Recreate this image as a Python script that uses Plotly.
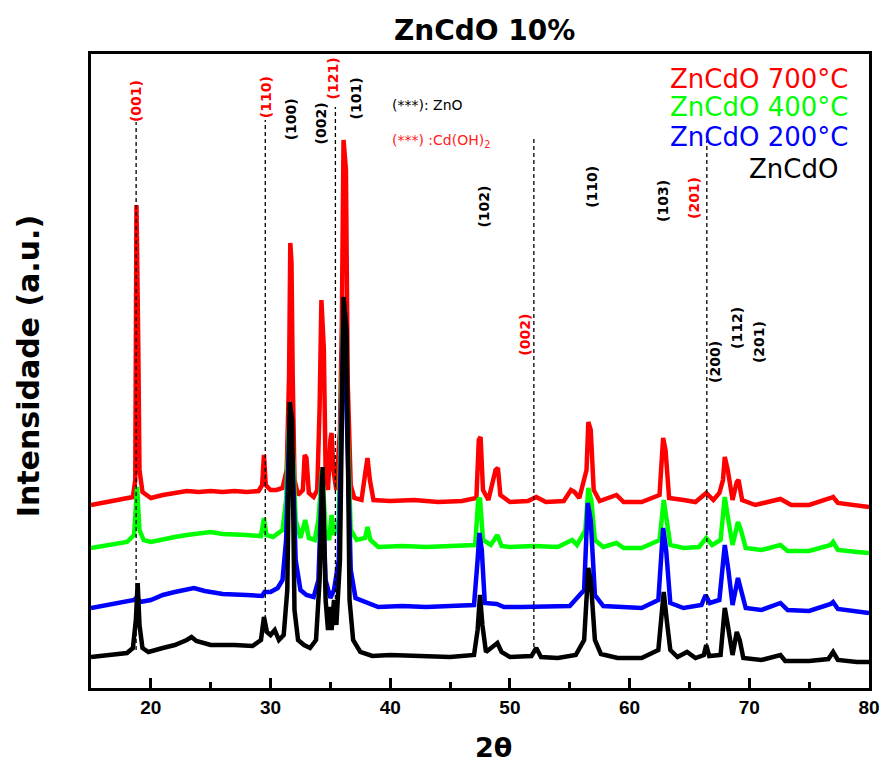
import plotly.graph_objects as go

# ---------------- data (2theta in degrees, intensity in a.u. with stacking offset included) -------------
tt_700 = [15, 16, 17, 18.0, 18.5, 18.7, 18.8, 18.95, 19.05, 19.3, 20, 21, 22, 23, 24, 25, 26, 27, 28,
          29.0, 29.3, 29.45, 29.6, 30.0, 30.5, 31.0, 31.35, 31.55, 31.65, 31.75, 31.85, 32.0, 32.3, 32.7,
          32.85, 33.0, 33.2, 33.6, 33.9, 34.1, 34.25, 34.45, 34.6, 34.8, 35.0, 35.1, 35.25, 35.5, 35.8,
          35.95, 36.1, 36.3, 36.45, 36.7, 37.0, 37.6, 37.95, 38.1, 38.3, 38.6, 40, 42, 44, 46, 47.2, 47.4,
          47.55, 47.75, 48.2, 48.8, 49.0, 49.2, 50, 51.5, 52.2, 53, 54.5, 55.1, 55.4, 55.8, 56.4, 56.55,
          56.75, 57.0, 57.5, 58.9, 59.5, 61, 62.5, 62.8, 63.0, 63.3, 64.5, 65.5, 66.4, 67.0, 67.5, 67.8,
          67.95, 68.2, 68.6, 68.95, 69.1, 69.4, 70.5, 72.6, 73.5, 75, 76.8, 77.0, 77.4, 79, 80]
int_700 = [183, 185, 187, 189, 191, 208, 483, 343, 218, 196, 190, 193, 195, 197, 196, 197, 196, 197, 196,
           197, 203, 233, 203, 198, 198, 200, 218, 313, 445, 426, 313, 208, 193, 198,
           233, 230, 195, 191, 198, 280, 388, 340, 218, 198, 248, 255, 218, 198, 258,
           360, 548, 518, 305, 203, 190, 188, 218, 230, 208, 188, 187, 188, 186, 187, 190, 248,
           251, 198, 188, 218, 220, 193, 186, 187, 191, 186, 187, 198, 196, 190, 218, 266,
           258, 198, 187, 193, 186, 186, 193, 250, 238, 190, 188, 186, 195, 188, 195, 208,
           231, 218, 188, 206, 208, 188, 183, 189, 183, 183, 190, 191, 185, 182, 181]

tt_400 = [15, 16, 17, 18.0, 18.6, 18.85, 19.05, 19.4, 20, 21, 22, 23, 24, 25, 26, 27, 28, 29.2, 29.45,
          29.65, 30.2, 31.0, 31.3, 31.6, 31.85, 32.1, 32.5, 32.9, 33.2, 33.7, 34.0, 34.3, 34.6, 34.9,
          35.1, 35.3, 35.7, 36.1, 36.4, 36.7, 37.2, 37.9, 38.1, 38.35, 39, 41, 43, 45, 47.1, 47.35, 47.5,
          47.75, 48.4, 48.95, 49.3, 50, 52, 54, 55.2, 55.6, 56.3, 56.55, 56.8, 57.1, 57.8, 58.9, 59.5,
          61, 62.5, 62.85, 63.1, 63.4, 64.5, 65.8, 66.4, 66.9, 67.6, 67.95, 68.25, 68.6, 69.05, 69.3,
          69.7, 71, 72.6, 73.2, 75, 76.8, 77.0, 77.4, 79, 80]
int_400 = [140, 142, 144, 146, 153, 201, 158, 148, 146, 149, 151, 153, 154, 156, 154, 153, 153, 152, 170,
           153, 151, 158, 188, 278, 238, 168, 150, 168, 150, 148, 168, 218, 158, 148,
           173, 153, 168, 388, 268, 158, 148, 150, 161, 148, 141, 142, 141, 142, 143, 188, 190,
           148, 143, 153, 142, 141, 142, 141, 148, 143, 158, 200, 188, 148, 141, 145, 140,
           140, 148, 188, 168, 143, 140, 141, 150, 143, 148, 191, 168, 143, 166, 158,
           140, 138, 143, 137, 137, 143, 146, 138, 136, 135]

tt_200 = [15, 16, 17, 18.0, 18.6, 18.85, 19.1, 20, 21, 22, 23, 23.6, 24.5, 26, 28, 29.3, 29.5, 30.0,
          30.6, 31.0, 31.3, 31.6, 31.85, 32.1, 32.5, 33.0, 33.6, 34.0, 34.3, 34.6, 35.0, 35.3, 35.7,
          36.1, 36.4, 36.7, 37.1, 38, 39, 41, 43, 45, 47.0, 47.3, 47.45, 47.65, 47.9, 48.9, 49.5, 51,
          53, 55, 56.2, 56.5, 56.75, 57.1, 57.8, 59, 61, 62.4, 62.8, 63.05, 63.4, 64.5, 66.0, 66.35,
          66.7, 67.5, 67.95, 68.25, 68.6, 69.05, 69.3, 69.7, 71, 72.6, 73.2, 75, 76.8, 77.0, 77.4, 79, 80]
int_200 = [80, 82, 84, 86, 88, 91, 86, 88, 93, 96, 99, 100, 97, 94, 93, 92, 96, 96,
           100, 108, 148, 273, 228, 128, 98, 93, 91, 108, 213, 108, 90, 98, 128,
           378, 258, 118, 90, 86, 81, 82, 81, 82, 83, 128, 155, 138, 85, 84, 81, 81,
           81, 82, 98, 185, 168, 93, 82, 81, 80, 88, 160, 138, 85, 80, 83, 93,
           85, 88, 143, 118, 83, 110, 98, 80, 78, 85, 78, 77, 84, 86, 79, 76, 75]

tt_asp = [15, 16, 17, 18.0, 18.5, 18.75, 18.9, 19.05, 19.3, 19.8, 21, 22, 23.0, 23.4, 23.8, 25, 27, 28.5,
          29.2, 29.45, 29.7, 30.0, 30.35, 30.7, 31.1, 31.4, 31.6, 31.8, 32.0, 32.3, 32.8, 33.3, 33.8,
          34.1, 34.35, 34.6, 34.8, 34.95, 35.1, 35.3, 35.5, 35.8, 36.1, 36.35, 36.6, 36.9, 37.5, 38.5,
          40, 42, 45, 47.0, 47.3, 47.5, 47.7, 48.0, 48.7, 48.95, 49.3, 50, 51.8, 52.2, 52.6, 54, 55.5,
          56.2, 56.55, 56.75, 57.1, 57.6, 59, 61, 62.4, 62.85, 63.1, 63.4, 64, 64.8, 65.5, 66.2, 66.4,
          66.65, 67.6, 67.95, 68.2, 68.6, 68.95, 69.2, 69.5, 71, 72.6, 73, 75, 76.6, 77.0, 77.4, 79, 80]
int_asp = [31, 32, 33, 35, 40, 68, 105, 63, 40, 36, 40, 43, 48, 51, 47, 43, 43, 42,
           48, 71, 56, 53, 58, 48, 53, 98, 286, 268, 78, 48, 43, 40, 48,
           108, 221, 88, 58, 81, 58, 88, 63, 128, 391, 358, 88, 48, 36, 32,
           33, 32, 31, 33, 58, 93, 63, 36, 43, 45, 36, 31, 32, 40, 31, 30, 33,
           48, 120, 108, 48, 34, 30, 30, 38, 96, 68, 38, 31, 36, 30, 33, 43,
           32, 33, 80, 63, 33, 56, 48, 30, 28, 33, 27, 27, 29, 36, 28, 26, 26]

series_names = ["ZnCdO 700°C", "ZnCdO 400°C", "ZnCdO 200°C", "ZnCdO"]
series_colors = ["#ff0000", "#00ff00", "#0000ff", "#000000"]

# reference (dashed) lines: position, bottom, top
ref_x = [18.77, 29.56, 35.42, 52.0, 66.45]
ref_y0 = [38, 55, 75, 41, 41]
ref_y1 = [566, 568, 581, 551, 548]

# Miller index labels
lab_text = ["(001)", "(110)", "(100)", "(002)", "(121)", "(101)", "(102)", "(110)", "(103)", "(201)",
            "(002)", "(200)", "(112)", "(201)"]
lab_x = [18.77, 29.64, 31.74, 34.25, 35.25, 37.18, 47.80, 56.84, 62.78, 65.38, 51.23, 67.13, 68.97, 70.82]
lab_y = [587, 591, 569, 565, 610, 590, 481, 501, 487, 490, 353, 326, 360, 346]
lab_color = ["red", "red", "black", "black", "red", "black", "black", "black", "black", "red",
             "red", "black", "black", "black"]

# ---------------- figure -------------
fig = go.Figure()
for xs, ys, name, col in zip([tt_700, tt_400, tt_200, tt_asp], [int_700, int_400, int_200, int_asp],
                             series_names, series_colors):
    fig.add_trace(go.Scatter(x=xs, y=ys, mode="lines", name=name,
                             line=dict(color=col, width=4.5), showlegend=False))

for x, y0, y1 in zip(ref_x, ref_y0, ref_y1):
    fig.add_shape(type="line", xref="x", yref="y", x0=x, x1=x, y0=y0, y1=y1,
                  line=dict(color="black", width=1.3, dash="4px,3px"), layer="above")

for t, x, y, c in zip(lab_text, lab_x, lab_y, lab_color):
    fig.add_annotation(x=x, y=y, xref="x", yref="y", text=t, showarrow=False, textangle=-90,
                       font=dict(family="DejaVu Sans", size=14, color=c, weight="bold"))

# legend-like texts
leg_y = [0.9606, 0.9164, 0.869, 0.8186]
leg_x = [0.9756, 0.9756, 0.9756, 0.9627]
for t, c, x, y in zip(series_names, series_colors, leg_x, leg_y):
    fig.add_annotation(x=x, y=y, xref="paper", yref="paper", text=t, showarrow=False,
                       xanchor="right", yanchor="middle",
                       font=dict(family="DejaVu Sans", size=26, color=c))

fig.add_annotation(x=0.3843, y=0.9196, xref="paper", yref="paper", text="(***): ZnO", showarrow=False,
                   xanchor="left", yanchor="middle", font=dict(family="DejaVu Sans", size=14, color="black"))
fig.add_annotation(x=0.3843, y=0.862, xref="paper", yref="paper", text="(***) :Cd(OH)<sub>2</sub>",
                   showarrow=False, xanchor="left", yanchor="middle",
                   font=dict(family="DejaVu Sans", size=14, color="#ff2020"))

# axis titles
fig.add_annotation(x=0.517, y=-0.1215, xref="paper", yref="paper", text="2θ", showarrow=False,
                   xanchor="center", yanchor="bottom",
                   font=dict(family="DejaVu Sans", size=27, color="black", weight="bold"))
fig.add_annotation(x=-0.081, y=0.509, xref="paper", yref="paper", text="Intensidade (a.u.)",
                   showarrow=False, textangle=-90, xanchor="center", yanchor="middle",
                   font=dict(family="DejaVu Sans", size=30, color="black", weight="bold"))

fig.update_layout(
    template="none",
    width=882, height=767,
    margin=dict(l=91, r=13, t=54, b=79, autoexpand=False),
    paper_bgcolor="white", plot_bgcolor="white",
    title=dict(text="ZnCdO 10%", x=0.506, xref="paper", y=1 - 30 / 767, yref="container",
               xanchor="center", yanchor="middle",
               font=dict(family="DejaVu Sans", size=28, color="black", weight="bold")),
    xaxis=dict(range=[15, 80], tickmode="linear", tick0=0, dtick=10, ticks="inside", ticklen=10,
               tickwidth=3, tickcolor="black", showline=True, linewidth=3, linecolor="black",
               mirror=True, showgrid=False, zeroline=False,
               tickfont=dict(family="Liberation Sans", size=19, color="black", weight="bold"),
               minor=dict(dtick=5, tick0=0, ticks="inside", ticklen=6, tickwidth=2.5,
                          tickcolor="black")),
    yaxis=dict(range=[0, 634], showticklabels=False, ticks="", showline=True, linewidth=3,
               linecolor="black", mirror=True, showgrid=False, zeroline=False),
)

fig.write_html("out.html")
